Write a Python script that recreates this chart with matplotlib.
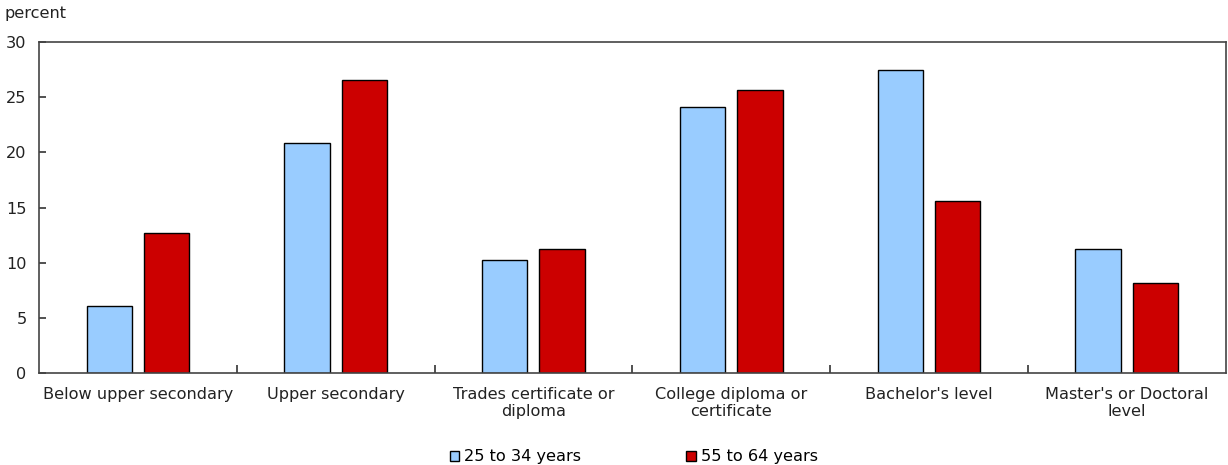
import matplotlib.pyplot as plt
import numpy as np
from matplotlib.patches import Patch

categories = ['Below upper secondary', 'Upper secondary', 'Trades certificate or\ndiploma',
              'College diploma or\ncertificate', "Bachelor's level", "Master's or Doctoral\nlevel"]
young = [6.1, 20.9, 10.2, 24.1, 27.5, 11.2]
old = [12.7, 26.6, 11.2, 25.7, 15.6, 8.2]
series_labels = ['25 to 34 years', '55 to 64 years']

blue = '#99ccff'
red = '#cc0000'
fs = 11.6

fig = plt.figure(figsize=(12.28, 4.65), dpi=100)
ax = fig.add_axes([0.0318, 0.198, 0.9662, 0.7113])

index = np.arange(len(categories))
w = 0.23
ax.bar(index - 0.145, young, w, color=blue, edgecolor='black', linewidth=1)
ax.bar(index + 0.145, old, w, color=red, edgecolor='black', linewidth=1)

ax.set_xlim(-0.5, len(categories) - 0.5)
ax.set_ylim(0, 30)
ax.set_yticks(np.arange(0, 31, 5))
ax.set_xticks(index)
ax.set_xticklabels(categories, fontsize=fs, color='#222222', linespacing=1.2)
ax.tick_params(axis='x', length=0, pad=10)
ax.set_xticks(np.arange(0.5, len(categories) - 0.5, 1), minor=True)
ax.tick_params(axis='x', which='minor', direction='in', length=6, width=1.2, color='#333333')
ax.tick_params(axis='y', direction='in', length=5, width=1.2, color='#333333', labelsize=fs,
               labelcolor='#222222', pad=9)
for s in ax.spines.values():
    s.set_color('#444444')
    s.set_linewidth(1.2)

fig.text(0.004, 0.987, 'percent', fontsize=fs, color='#222222', va='top')

handles = [Patch(facecolor=blue, edgecolor='black'), Patch(facecolor=red, edgecolor='black')]
fig.legend(handles, series_labels, loc='lower center', bbox_to_anchor=(0.516, -0.03), ncol=2,
           frameon=False, fontsize=fs, handlelength=0.6, handleheight=0.6, handletextpad=0.3,
           columnspacing=6.5)

fig.savefig('out.png', dpi=100)
